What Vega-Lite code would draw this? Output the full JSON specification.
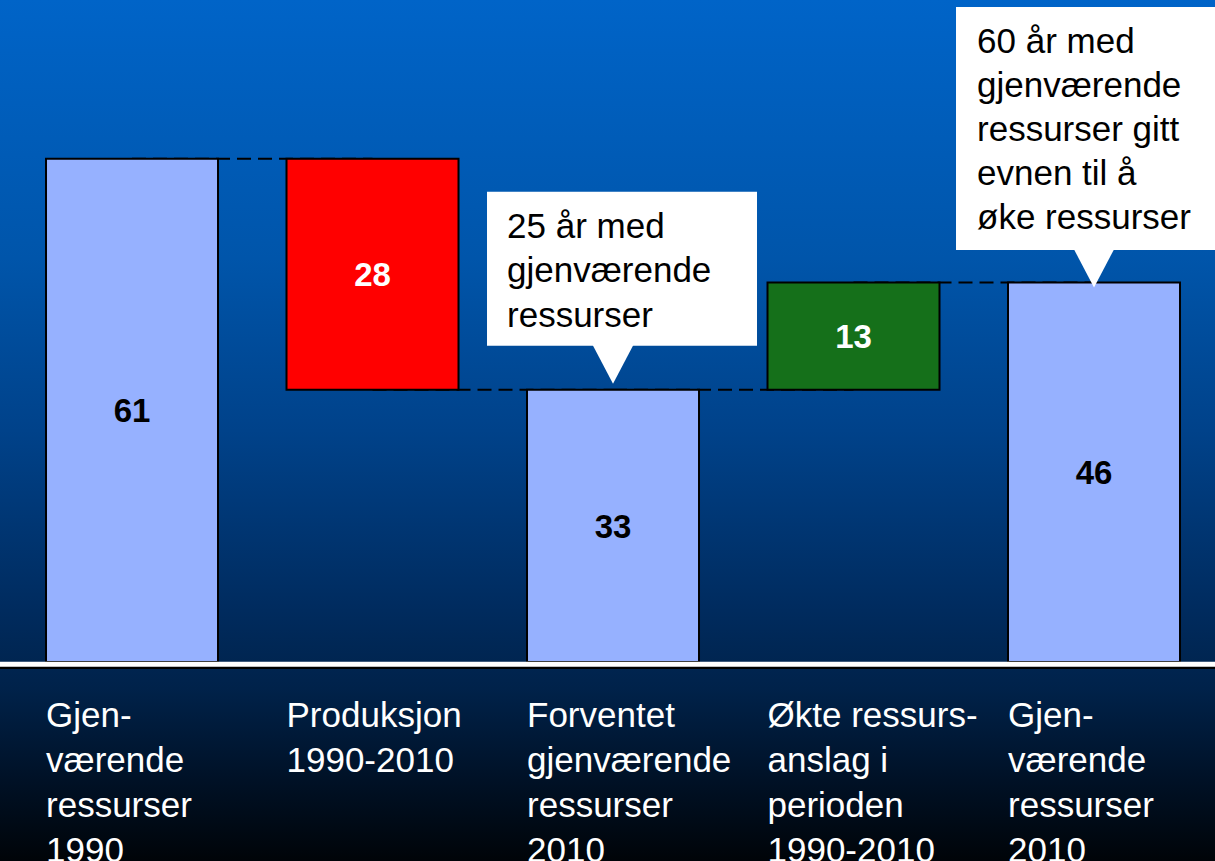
{
  "$schema": "https://vega.github.io/schema/vega-lite/v6.json",
  "width": 1215,
  "height": 861,
  "padding": 0,
  "autosize": {"type": "fit", "contains": "padding"},
  "background": "#000000",
  "view": {"stroke": null},
  "config": {"font": "Liberation Sans"},
  "layer": [
    {
      "data": {"values": [{"top": 80.24, "bottom": -24.12}]},
      "mark": {
        "type": "rect",
        "clip": true,
        "color": {
          "gradient": "linear", "x1": 0, "y1": 0, "x2": 0, "y2": 1,
          "stops": [
            {"offset": 0, "color": "#0064c8"},
            {"offset": 0.3, "color": "#0055aa"},
            {"offset": 0.5, "color": "#00428a"},
            {"offset": 0.7, "color": "#002c60"},
            {"offset": 0.8, "color": "#00224a"},
            {"offset": 0.9, "color": "#001228"},
            {"offset": 1, "color": "#000408"}
          ]
        }
      },
      "encoding": {
        "x": {"value": 0},
        "x2": {"value": "width"},
        "y": {"field": "top", "type": "quantitative", "axis": null, "scale": {"domain": [-24.12, 80.24], "nice": false, "zero": false}},
        "y2": {"field": "bottom"}
      }
    },
    {
      "data": {"values": [
        {"from": 1, "to": 2, "level": 61},
        {"from": 2, "to": 3, "level": 33},
        {"from": 3, "to": 4, "level": 33},
        {"from": 4, "to": 5, "level": 46}
      ]},
      "mark": {"type": "rule", "color": "#000000", "strokeWidth": 2, "strokeDash": [14, 7], "clip": true},
      "encoding": {
        "x": {"field": "from", "type": "ordinal", "axis": null, "scale": {"type": "band", "domain": [1, 2, 3, 4, 5], "paddingInner": 0.2848, "paddingOuter": 0.1684, "align": 0.568}},
        "x2": {"field": "to"},
        "y": {"field": "level", "type": "quantitative", "axis": null, "scale": {"domain": [-24.12, 80.24], "nice": false, "zero": false}}
      }
    },
    {
      "data": {"values": [
        {"step": 1, "start": 0, "end": 61, "kind": "base"},
        {"step": 2, "start": 33, "end": 61, "kind": "down"},
        {"step": 3, "start": 0, "end": 33, "kind": "base"},
        {"step": 4, "start": 33, "end": 46, "kind": "up"},
        {"step": 5, "start": 0, "end": 46, "kind": "base"}
      ]},
      "mark": {"type": "bar", "stroke": "#000000", "strokeWidth": 2},
      "encoding": {
        "x": {"field": "step", "type": "ordinal", "axis": null, "scale": {"type": "band", "domain": [1, 2, 3, 4, 5], "paddingInner": 0.2848, "paddingOuter": 0.1684, "align": 0.568}},
        "y": {"field": "start", "type": "quantitative", "axis": null, "scale": {"domain": [-24.12, 80.24], "nice": false, "zero": false}},
        "y2": {"field": "end"},
        "color": {"field": "kind", "type": "nominal", "legend": null, "scale": {"domain": ["base", "down", "up"], "range": ["#96b1ff", "#ff0000", "#15701a"]}}
      }
    },
    {
      "data": {"values": [
        {"step": 1, "start": 0, "end": 61, "value": 61, "kind": "base"},
        {"step": 2, "start": 33, "end": 61, "value": 28, "kind": "down"},
        {"step": 3, "start": 0, "end": 33, "value": 33, "kind": "base"},
        {"step": 4, "start": 33, "end": 46, "value": 13, "kind": "up"},
        {"step": 5, "start": 0, "end": 46, "value": 46, "kind": "base"}
      ]},
      "transform": [
        {"fold": ["start", "end"], "as": ["edge", "level"]},
        {"aggregate": [{"op": "mean", "field": "level", "as": "mid"}], "groupby": ["step", "value", "kind"]}
      ],
      "mark": {"type": "text", "fontSize": 33, "fontWeight": "bold", "align": "center", "baseline": "middle", "dy": 2},
      "encoding": {
        "x": {"field": "step", "type": "ordinal", "axis": null, "scale": {"type": "band", "domain": [1, 2, 3, 4, 5], "paddingInner": 0.2848, "paddingOuter": 0.1684, "align": 0.568}},
        "y": {"field": "mid", "type": "quantitative", "axis": null, "scale": {"domain": [-24.12, 80.24], "nice": false, "zero": false}},
        "text": {"field": "value", "type": "quantitative"},
        "color": {"condition": {"test": "datum.kind === 'base'", "value": "#000000"}, "value": "#ffffff"}
      }
    },
    {
      "data": {"values": [{"base": 0}]},
      "mark": {"type": "rule", "color": "#000000", "strokeWidth": 5, "yOffset": 4.5, "clip": true},
      "encoding": {
        "y": {"field": "base", "type": "quantitative", "axis": null, "scale": {"domain": [-24.12, 80.24], "nice": false, "zero": false}}
      }
    },
    {
      "data": {"values": [{"base": 0}]},
      "mark": {"type": "rule", "color": "#ffffff", "strokeWidth": 5, "yOffset": 2.2, "clip": true},
      "encoding": {
        "y": {"field": "base", "type": "quantitative", "axis": null, "scale": {"domain": [-24.12, 80.24], "nice": false, "zero": false}}
      }
    },
    {
      "data": {"values": [
        {"step": 1, "base": 0, "label": "Gjen-\nværende\nressurser\n1990"},
        {"step": 2, "base": 0, "label": "Produksjon\n1990-2010"},
        {"step": 3, "base": 0, "label": "Forventet\ngjenværende\nressurser\n2010"},
        {"step": 4, "base": 0, "label": "Økte ressurs-\nanslag i\nperioden\n1990-2010"},
        {"step": 5, "base": 0, "label": "Gjen-\nværende\nressurser\n2010"}
      ]},
      "mark": {"type": "text", "color": "#ffffff", "fontSize": 35, "align": "left", "baseline": "alphabetic", "lineBreak": "\n", "lineHeight": 45, "dx": -86, "dy": 64.7, "clip": true},
      "encoding": {
        "x": {"field": "step", "type": "ordinal", "axis": null, "scale": {"type": "band", "domain": [1, 2, 3, 4, 5], "paddingInner": 0.2848, "paddingOuter": 0.1684, "align": 0.568}},
        "y": {"field": "base", "type": "quantitative", "axis": null, "scale": {"domain": [-24.12, 80.24], "nice": false, "zero": false}},
        "text": {"field": "label", "type": "nominal"}
      }
    },
    {
      "data": {"values": [{"step": 3, "value": 33, "note": "25 år med\ngjenværende\nressurser"}]},
      "mark": {"type": "bar", "color": "#ffffff", "width": 270, "xOffset": 9, "yOffset": -198, "y2Offset": -44, "clip": true},
      "encoding": {
        "x": {"field": "step", "type": "ordinal", "axis": null, "scale": {"type": "band", "domain": [1, 2, 3, 4, 5], "paddingInner": 0.2848, "paddingOuter": 0.1684, "align": 0.568}},
        "y": {"field": "value", "type": "quantitative", "axis": null, "scale": {"domain": [-24.12, 80.24], "nice": false, "zero": false}},
        "y2": {"field": "value"}
      }
    },
    {
      "data": {"values": [{"step": 3, "value": 33, "note": "25 år med\ngjenværende\nressurser"}]},
      "mark": {"type": "point", "shape": "M-1,-1L1,-1L0,0.9Z", "size": 1764, "filled": true, "color": "#ffffff", "opacity": 1, "yOffset": -25},
      "encoding": {
        "x": {"field": "step", "type": "ordinal", "axis": null, "scale": {"type": "band", "domain": [1, 2, 3, 4, 5], "paddingInner": 0.2848, "paddingOuter": 0.1684, "align": 0.568}},
        "y": {"field": "value", "type": "quantitative", "axis": null, "scale": {"domain": [-24.12, 80.24], "nice": false, "zero": false}}
      }
    },
    {
      "data": {"values": [{"step": 3, "value": 33, "note": "25 år med\ngjenværende\nressurser"}]},
      "mark": {"type": "text", "color": "#000000", "fontSize": 35, "align": "left", "baseline": "alphabetic", "lineBreak": "\n", "lineHeight": 44.7, "dx": -106, "dy": -152, "clip": true},
      "encoding": {
        "x": {"field": "step", "type": "ordinal", "axis": null, "scale": {"type": "band", "domain": [1, 2, 3, 4, 5], "paddingInner": 0.2848, "paddingOuter": 0.1684, "align": 0.568}},
        "y": {"field": "value", "type": "quantitative", "axis": null, "scale": {"domain": [-24.12, 80.24], "nice": false, "zero": false}},
        "text": {"field": "note", "type": "nominal"}
      }
    },
    {
      "data": {"values": [{"step": 5, "value": 46, "note": "60 år med\ngjenværende\nressurser gitt\nevnen til å\nøke ressurser"}]},
      "mark": {"type": "bar", "color": "#ffffff", "width": 270, "xOffset": -3, "yOffset": -275.5, "y2Offset": -32.5, "clip": true},
      "encoding": {
        "x": {"field": "step", "type": "ordinal", "axis": null, "scale": {"type": "band", "domain": [1, 2, 3, 4, 5], "paddingInner": 0.2848, "paddingOuter": 0.1684, "align": 0.568}},
        "y": {"field": "value", "type": "quantitative", "axis": null, "scale": {"domain": [-24.12, 80.24], "nice": false, "zero": false}},
        "y2": {"field": "value"}
      }
    },
    {
      "data": {"values": [{"step": 5, "value": 46, "note": "60 år med\ngjenværende\nressurser gitt\nevnen til å\nøke ressurser"}]},
      "mark": {"type": "point", "shape": "M-1,-1L1,-1L0,0.9Z", "size": 1764, "filled": true, "color": "#ffffff", "opacity": 1, "yOffset": -14},
      "encoding": {
        "x": {"field": "step", "type": "ordinal", "axis": null, "scale": {"type": "band", "domain": [1, 2, 3, 4, 5], "paddingInner": 0.2848, "paddingOuter": 0.1684, "align": 0.568}},
        "y": {"field": "value", "type": "quantitative", "axis": null, "scale": {"domain": [-24.12, 80.24], "nice": false, "zero": false}}
      }
    },
    {
      "data": {"values": [{"step": 5, "value": 46, "note": "60 år med\ngjenværende\nressurser gitt\nevnen til å\nøke ressurser"}]},
      "mark": {"type": "text", "color": "#000000", "fontSize": 35, "align": "left", "baseline": "alphabetic", "lineBreak": "\n", "lineHeight": 44, "dx": -117, "dy": -229.5, "clip": true},
      "encoding": {
        "x": {"field": "step", "type": "ordinal", "axis": null, "scale": {"type": "band", "domain": [1, 2, 3, 4, 5], "paddingInner": 0.2848, "paddingOuter": 0.1684, "align": 0.568}},
        "y": {"field": "value", "type": "quantitative", "axis": null, "scale": {"domain": [-24.12, 80.24], "nice": false, "zero": false}},
        "text": {"field": "note", "type": "nominal"}
      }
    }
  ]
}
